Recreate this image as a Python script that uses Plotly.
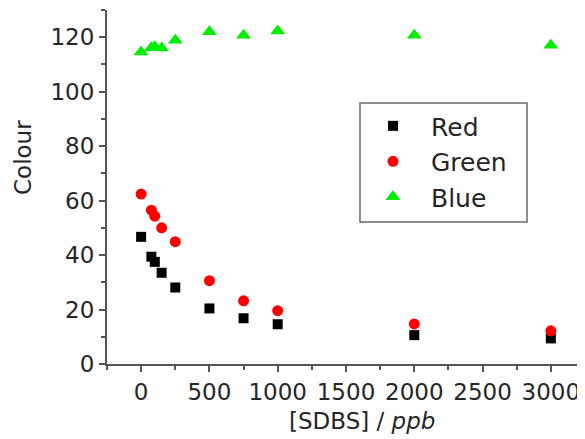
import plotly.graph_objects as go

sdbs = [0, 75, 100, 150, 250, 500, 750, 1000, 2000, 3000]
red = [46.7, 39.4, 37.5, 33.5, 28.1, 20.4, 16.8, 14.6, 10.6, 9.4]
green = [62.4, 56.5, 54.3, 50.0, 44.9, 30.6, 23.2, 19.6, 14.7, 12.2]
blue = [114.6, 116.1, 116.5, 116.0, 118.9, 122.0, 120.7, 122.3, 120.7, 117.1]

FONT = "DejaVu Sans"
AX = "#555555"
TXT = "#262626"

fig = go.Figure()
fig.add_trace(go.Scatter(x=sdbs, y=red, mode="markers", name="Red",
                         marker=dict(symbol="square", size=10, color="#000000")))
fig.add_trace(go.Scatter(x=sdbs, y=green, mode="markers", name="Green",
                         marker=dict(symbol="circle", size=11, color="#ff0000")))
fig.add_trace(go.Scatter(x=sdbs, y=blue, mode="markers", name="Blue",
                         marker=dict(symbol="triangle-up", size=13, color="#00ee00")))

PW, PH = 478, 354  # plot area size in px

fig.update_layout(
    width=585, height=439,
    margin=dict(l=99, r=8, t=2, b=83),
    paper_bgcolor="white", plot_bgcolor="white",
    font=dict(family=FONT, size=23, color=TXT),
    showlegend=True,
    legend=dict(x=(355 - 107) / PW, y=0.737, xanchor="left", yanchor="top",
                borderwidth=0, bgcolor="rgba(0,0,0,0)",
                font=dict(family=FONT, size=25, color=TXT),
                itemwidth=66),
    shapes=[dict(type="rect", xref="paper", yref="paper",
                 x0=(360 - 107) / PW, x1=(527 - 107) / PW,
                 y0=(364 - 222) / PH, y1=(364 - 103) / PH,
                 line=dict(color="#6a6a6a", width=1.5), fillcolor="rgba(0,0,0,0)")],
    xaxis=dict(range=[-250, 3250], dtick=500, tick0=0,
               showline=True, linecolor=AX, linewidth=2,
               ticks="outside", ticklen=6, tickwidth=2, tickcolor=AX,
               minor=dict(dtick=250, tick0=0, ticks="outside", ticklen=4,
                          tickwidth=1.5, tickcolor=AX, showgrid=False),
               showgrid=False, zeroline=False,
               tickfont=dict(family=FONT, size=23, color=TXT)),
    yaxis=dict(range=[0, 130], dtick=20, tick0=0,
               showline=True, linecolor=AX, linewidth=2,
               ticks="outside", ticklen=6, tickwidth=2, tickcolor=AX,
               minor=dict(dtick=10, tick0=0, ticks="outside", ticklen=4,
                          tickwidth=1.5, tickcolor=AX, showgrid=False),
               showgrid=False, zeroline=False,
               tickfont=dict(family=FONT, size=23, color=TXT)),
    annotations=[
        dict(text="[SDBS] / <i>ppb</i>", xref="paper", yref="paper",
             x=(362 - 107) / PW, y=-(421 - 364) / PH, xanchor="center", yanchor="middle",
             showarrow=False, font=dict(family=FONT, size=23, color=TXT)),
        dict(text="Colour", xref="paper", yref="paper", textangle=-90,
             x=-(107 - 23) / PW, y=(364 - 158) / PH, xanchor="center", yanchor="middle",
             showarrow=False, font=dict(family=FONT, size=23, color=TXT)),
    ],
)

fig.write_html("out.html")
